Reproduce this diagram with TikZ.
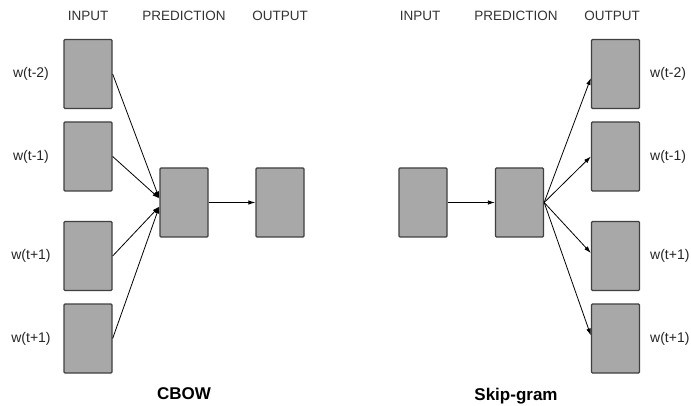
\documentclass[tikz,border=0pt]{standalone}
\usepackage{fontspec}
\setmainfont{Liberation Sans}
\usetikzlibrary{arrows.meta}
\definecolor{boxfill}{HTML}{A8A8A8}
\definecolor{boxline}{HTML}{404040}
\begin{document}
\begin{tikzpicture}[x=1pt,y=-1pt,
  wordbox/.style={draw=boxline, fill=boxfill, line width=1.3pt, rounded corners=1pt,
    minimum width=48pt, minimum height=69pt, inner sep=0pt},
  header/.style={font=\fontsize{13.5}{15}\selectfont, text=black!80},
  wordlabel/.style={font=\fontsize{14}{16}\selectfont, text=black!85},
  title/.style={font=\fontsize{17}{19}\selectfont\bfseries},
  link/.style={line width=0.8pt, -{Latex[length=7pt,width=4.5pt]}}]
\useasboundingbox[fill=white] (0,0) rectangle (691,406);

% ---------------- CBOW ----------------
\node[header] (hinL) at (88,16) {INPUT};
\node[header] (hprL) at (184,16) {PREDICTION};
\node[header] (houL) at (280,16) {OUTPUT};

\node[wordbox] (in1) at (88,74) {};
\node[wordbox] (in2) at (88,156.5) {};
\node[wordbox] (in3) at (88,256) {};
\node[wordbox] (in4) at (88,338.5) {};

\node[wordlabel] (lin1) at (31,74) {w(t-2)};
\node[wordlabel] (lin2) at (31,156.5) {w(t-1)};
\node[wordlabel] (lin3) at (31,256) {w(t+1)};
\node[wordlabel] (lin4) at (31,338.5) {w(t+1)};

\node[wordbox] (predL) at (184,202.5) {};
\node[wordbox] (outL) at (280,202.5) {};

\draw[link] (in1.east) -- ([yshift=4pt]predL.west);
\draw[link] (in2.east) -- ([yshift=4pt]predL.west);
\draw[link] (in3.east) -- ([yshift=-4pt]predL.west);
\draw[link] (in4.east) -- ([yshift=-4pt]predL.west);
\draw[link] (predL.east) -- (outL.west);

\node[title] (cbow) at (184,394) {CBOW};

% ---------------- Skip-gram ----------------
\node[header] (hinR) at (420,16) {INPUT};
\node[header] (hprR) at (516,16) {PREDICTION};
\node[header] (houR) at (612,16) {OUTPUT};

\node[wordbox] (inR) at (423,202.5) {};
\node[wordbox] (predR) at (519.5,202.5) {};

\node[wordbox] (out1) at (615.5,74) {};
\node[wordbox] (out2) at (615.5,156.5) {};
\node[wordbox] (out3) at (615.5,256) {};
\node[wordbox] (out4) at (615.5,338.5) {};

\node[wordlabel, anchor=west, inner sep=0pt] (lout1) at (650,74) {w(t-2)};
\node[wordlabel, anchor=west, inner sep=0pt] (lout2) at (650,156.5) {w(t-1)};
\node[wordlabel, anchor=west, inner sep=0pt] (lout3) at (650,256) {w(t+1)};
\node[wordlabel, anchor=west, inner sep=0pt] (lout4) at (650,338.5) {w(t+1)};

\draw[link] (inR.east) -- (predR.west);
\draw[link] (predR.east) -- ([yshift=-4pt]out1.west);
\draw[link] (predR.east) -- (out2.west);
\draw[link] (predR.east) -- ([yshift=3pt]out3.west);
\draw[link] (predR.east) -- ([yshift=3pt]out4.west);

\node[title] (skip) at (516,396) {Skip-gram};
\end{tikzpicture}
\end{document}
